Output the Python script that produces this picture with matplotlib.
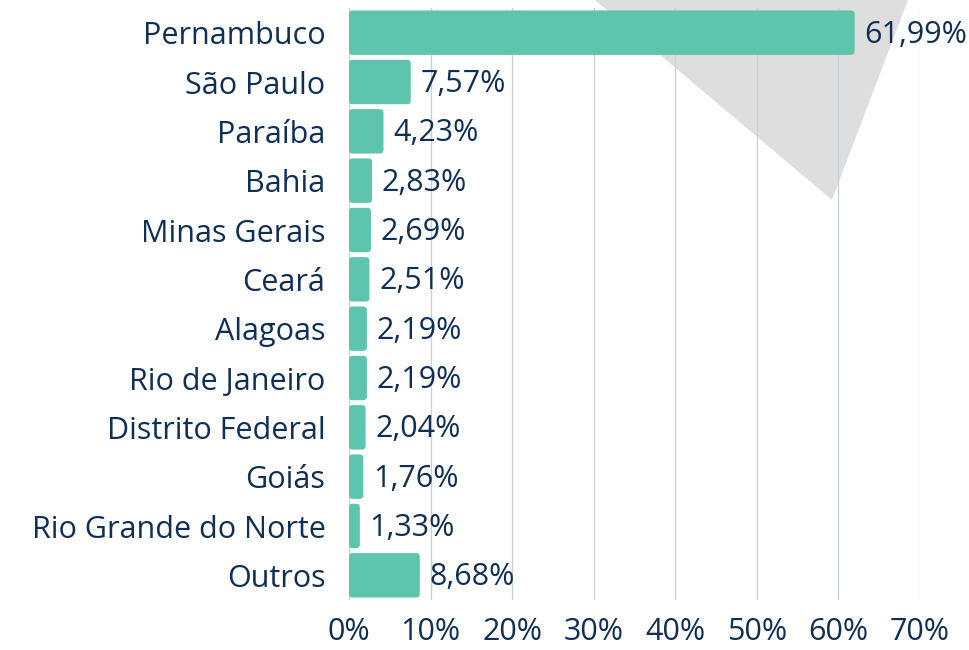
import numpy as np
import matplotlib.pyplot as plt
from matplotlib.patches import Polygon, FancyBboxPatch

estados = ['Pernambuco', 'São Paulo', 'Paraíba', 'Bahia', 'Minas Gerais', 'Ceará',
           'Alagoas', 'Rio de Janeiro', 'Distrito Federal', 'Goiás',
           'Rio Grande do Norte', 'Outros']
percentuais = [61.99, 7.57, 4.23, 2.83, 2.69, 2.51, 2.19, 2.19, 2.04, 1.76, 1.33, 8.68]
ticks = [0, 10, 20, 30, 40, 50, 60, 70]

navy = '#0f2f57'
verde = '#5dc4ae'
fs = 22

plt.rcParams['font.family'] = ['Open Sans', 'DejaVu Sans']

fig = plt.figure(figsize=(9.7, 6.5), dpi=100)

# fundo com a marca d'agua cinza
bg = fig.add_axes([0, 0, 1, 1], zorder=0)
bg.set_xlim(0, 970)
bg.set_ylim(650, 0)
bg.axis('off')
bg.add_patch(Polygon([(595, 0), (908, 0), (832, 200)], closed=True,
                     facecolor='#dedede', edgecolor='none'))

ax = fig.add_axes([349 / 970, 1 - 600 / 650, 571 / 970, 592 / 650], zorder=1)
ax.set_facecolor('none')

y = np.arange(len(estados))
bars = ax.barh(y, percentuais, height=0.9, color=verde)
# cantos arredondados
for b in bars:
    b.set_visible(False)
    ax.add_patch(FancyBboxPatch((b.get_x(), b.get_y()), b.get_width(), b.get_height(),
                                boxstyle='round,pad=0,rounding_size=0.45',
                                mutation_aspect=0.16, facecolor=verde,
                                edgecolor='none', zorder=3))
for yi, v in zip(y, percentuais):
    ax.text(v + 1.2, yi + 0.04, f'{v:.2f}%'.replace('.', ','), va='center', ha='left',
            fontsize=fs, color=navy, zorder=4)

ax.set_yticks(y)
ax.set_yticklabels(estados)
ax.set_ylim(len(estados) - 0.5, -0.5)
ax.set_xlim(0, 70)
ax.set_xticks(ticks)
ax.set_xticklabels([f'{t}%' for t in ticks])
ax.tick_params(axis='both', length=0, labelsize=fs, labelcolor=navy)
ax.tick_params(axis='y', pad=17)
ax.tick_params(axis='x', pad=12)
ax.grid(axis='x', color='#c9d0da', linewidth=1, zorder=1)
ax.set_axisbelow(True)
for s in ax.spines.values():
    s.set_visible(False)

fig.savefig('out.png', dpi=100)
